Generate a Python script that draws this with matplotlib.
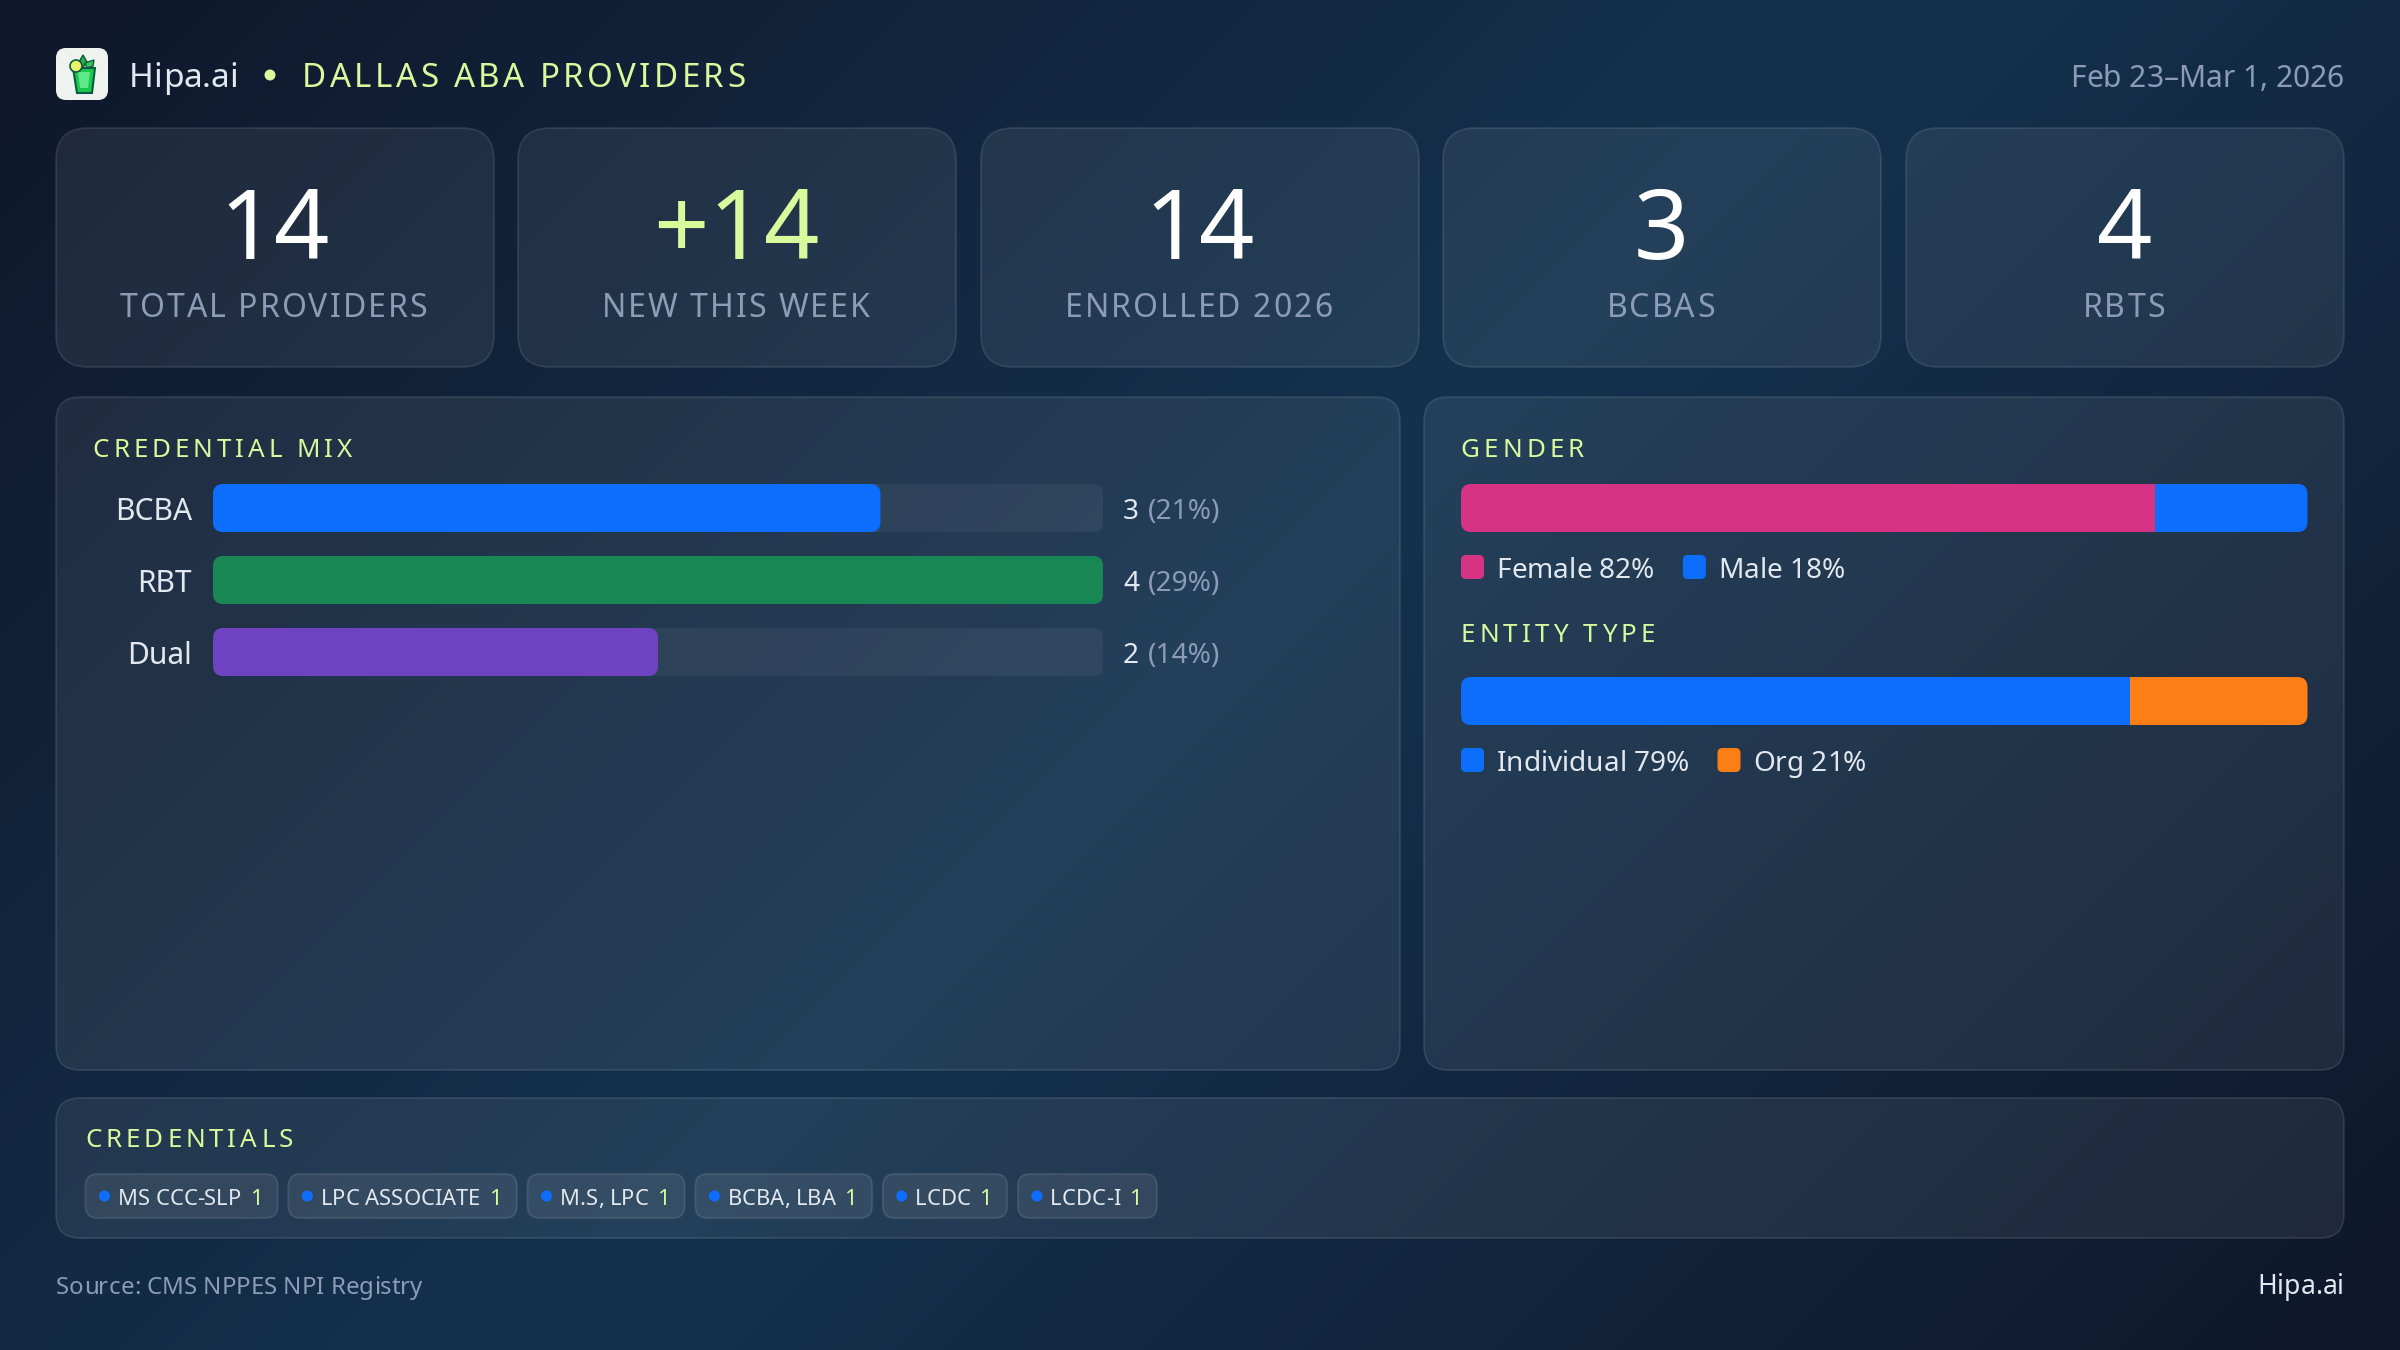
import matplotlib
matplotlib.use('Agg')
import matplotlib.pyplot as plt
import numpy as np
from matplotlib.colors import LinearSegmentedColormap
from matplotlib.patches import FancyBboxPatch, Circle, Polygon
from matplotlib.text import Text
from matplotlib.transforms import Bbox, IdentityTransform

plt.rcParams['font.family'] = ['Noto Sans', 'DejaVu Sans']

# data
kpi_values = ['14', '+14', '14', '3', '4']
kpi_labels = ['TOTAL PROVIDERS', 'NEW THIS WEEK', 'ENROLLED 2026', 'BCBAS', 'RBTS']
cred_names = ['BCBA', 'RBT', 'Dual']
cred_counts = [3, 4, 2]
cred_pcts = [21, 29, 14]
gender_names = ['Female', 'Male']
gender_pcts = [82, 18]
entity_names = ['Individual', 'Org']
entity_pcts = [79, 21]
chip_names = ['MS CCC-SLP', 'LPC ASSOCIATE', 'M.S, LPC', 'BCBA, LBA', 'LCDC', 'LCDC-I']
chip_counts = [1, 1, 1, 1, 1, 1]

W, H = 2400, 1350
LIME = '#d9f99d'
MUTED = '#8c9cb6'
LIGHT = '#e2e8f0'
BLUE = '#0d6efd'
GREEN = '#198754'
PURPLE = '#6f42c1'
PINK = '#d63384'
ORANGE = '#fd7e14'


def fs(px):
    # css pixels to points at dpi 100
    return px * 0.72


class SpacedText(Text):
    # one text object, drawn with css style letter spacing
    def __init__(self, x, y, s, spacing=0, **kw):
        super().__init__(x, y, s, **kw)
        self.spacing = spacing

    def _pen(self, renderer, s):
        fp = self.get_fontproperties()
        w = lambda t: renderer.get_text_width_height_descent(t, fp, False)[0]
        return w('|' + s + '|') - w('||')

    def _start(self, renderer):
        s = self.get_text()
        x, y = self.get_transform().transform(self.get_position())
        total = self._pen(renderer, s) + self.spacing * (len(s) - 1)
        if self.get_ha() == 'center':
            x -= total / 2
        elif self.get_ha() == 'right':
            x -= total
        return x, y

    def draw(self, renderer):
        s = self.get_text()
        x, y = self._start(renderer)
        for i, ch in enumerate(s):
            if ch == ' ':
                continue
            off = self._pen(renderer, s[:i]) + self.spacing * i if i else 0
            t = Text(x + off, y, ch, fontproperties=self.get_fontproperties(), color=self.get_color(),
                     transform=IdentityTransform(), va='baseline', ha='left')
            t.set_figure(self.get_figure())
            t.draw(renderer)

    def get_window_extent(self, renderer=None, dpi=None):
        bb = super().get_window_extent(renderer, dpi)
        extra = self.spacing * (len(self.get_text()) - 1)
        if self.get_ha() == 'center':
            return Bbox.from_extents(bb.x0 - extra / 2, bb.y0, bb.x1 + extra / 2, bb.y1)
        if self.get_ha() == 'right':
            return Bbox.from_extents(bb.x0 - extra, bb.y0, bb.x1, bb.y1)
        return Bbox.from_extents(bb.x0, bb.y0, bb.x1 + extra, bb.y1)


fig = plt.figure(figsize=(24, 13.5), dpi=100)
bg = fig.add_axes([0, 0, 1, 1], zorder=0)
bg.set_xlim(0, W)
bg.set_ylim(H, 0)
bg.axis('off')

# diagonal page background
yy, xx = np.mgrid[0:H:4, 0:W:4]
grad = ((xx - W / 2) + (yy - H / 2)) / (W + H) + 0.5
cmap = LinearSegmentedColormap.from_list('page', ['#0f172a', '#14324e', '#0f172a'])
bg.imshow(grad, cmap=cmap, extent=(0, W, H, 0), aspect='auto', vmin=0, vmax=1, zorder=0)
bg.set_xlim(0, W)
bg.set_ylim(H, 0)


def box(x0, y0, x1, y1, r, fc='white', fa=0.07, ec='white', ea=0.1, lw=1.3, z=1):
    fcol = matplotlib.colors.to_rgba(fc, fa)
    ecol = matplotlib.colors.to_rgba(ec, ea)
    p = FancyBboxPatch((x0, y0), x1 - x0, y1 - y0, boxstyle=f'round,pad=0,rounding_size={r}',
                       fc=fcol, ec=ecol, lw=lw, zorder=z)
    bg.add_patch(p)
    return p


def label(x, y, s, px, color=LIGHT, ha='left', weight='normal', spacing=0, z=5):
    t = SpacedText(x, y, s, spacing=spacing, fontsize=fs(px), color=color, ha=ha, va='baseline',
                   fontweight=weight, zorder=z)
    bg.add_artist(t)
    return t


def text_w(s, px):
    r = fig.canvas.get_renderer()
    t = bg.text(0, 0, s, fontsize=fs(px))
    w = t.get_window_extent(r).width
    t.remove()
    return w


# header
box(56, 48, 108, 100, 10, fa=0.97, ea=0, lw=0, fc='#f7fbf7')
bg.add_patch(Polygon([(73, 68), (95, 68), (92, 93), (77, 93)], fc='#18c94b', ec='#0b5a45', lw=1.5, zorder=3))
bg.add_patch(Polygon([(78, 72), (90, 72), (88, 88), (80, 88)], fc='#5fe88a', ec='none', zorder=3))
bg.add_patch(Circle((76, 66), 6, fc='#e9f26a', ec='#0b5a45', lw=1.2, zorder=4))
bg.add_patch(Polygon([(79, 62), (83, 55), (87, 62), (83, 67)], fc='#2fae3f', ec='#0b5a45', lw=1, zorder=3))
bg.add_patch(Polygon([(85, 63), (94, 60), (93, 66), (87, 68)], fc='#3cc24d', ec='#0b5a45', lw=1, zorder=3))
label(129, 87, 'Hipa.ai', 33.5, LIGHT)
bg.add_patch(Circle((270, 75), 5.5, fc=LIME, ec='none', zorder=4))
label(302, 87, 'DALLAS ABA PROVIDERS', 33, LIME, spacing=3.4)
label(2344, 87, 'Feb 23–Mar 1, 2026', 30, MUTED, ha='right')

# kpi cards
card_x0 = [56, 518, 981, 1443, 1906]
card_w = 438
for x0, val, lab, i in zip(card_x0, kpi_values, kpi_labels, range(5)):
    box(x0, 128, x0 + card_w, 367, 32)
    col = LIME if val.startswith('+') else 'white'
    label(x0 + card_w / 2 - 0.5, 259, val, 97, col, ha='center', weight='light')
    label(x0 + card_w / 2 - 1.5, 317, lab, 32, MUTED, ha='center', spacing=2)

# panels
box(56, 397, 1400, 1070, 24)
box(1424, 397, 2344, 1070, 24)
box(56, 1098, 2344, 1238, 24)
label(92.5, 457, 'CREDENTIAL MIX', 26, LIME, spacing=4)
label(1460.5, 457, 'GENDER', 26, LIME, spacing=4.2)
label(1460.5, 642, 'ENTITY TYPE', 26, LIME, spacing=4.2)
label(85, 1147, 'CREDENTIALS', 26, LIME, spacing=4)


def rounded(ax, x0, x1, yc, h, r_px):
    # rounded box in data units of ax, same pixel radius both ways
    bb = ax.get_position()
    xl, yl = ax.get_xlim(), ax.get_ylim()
    px_x = bb.width * W / abs(xl[1] - xl[0])
    px_y = bb.height * H / abs(yl[1] - yl[0])
    return FancyBboxPatch((x0, yc - h / 2), x1 - x0, h,
                          boxstyle=f'round,pad=0,rounding_size={r_px / px_x}',
                          mutation_aspect=px_x / px_y, transform=ax.transData)


def chart_ax(x0, y0, x1, y1):
    ax = fig.add_axes([x0 / W, 1 - y1 / H, (x1 - x0) / W, (y1 - y0) / H], zorder=2)
    ax.patch.set_alpha(0)
    for s in ax.spines.values():
        s.set_visible(False)
    ax.set_xticks([])
    ax.set_yticks([])
    return ax


# credential mix bars, rows are 72px apart and bars 48px tall
ax = chart_ax(213, 472, 1103, 688)
ax.set_xlim(0, max(cred_counts))
ax.set_ylim(len(cred_names) - 0.5, -0.5)
rows = np.arange(len(cred_names))
bar_h = 48 / 72
for i, (n, c, p, col) in enumerate(zip(cred_names, cred_counts, cred_pcts, [BLUE, GREEN, PURPLE])):
    track = ax.barh(i, max(cred_counts), height=bar_h, color='white', alpha=0.055, lw=0)[0]
    track.set_clip_path(rounded(ax, 0, max(cred_counts), i, bar_h, 10))
    bar = ax.barh(i, c, height=bar_h, color=col, lw=0)[0]
    bar.set_clip_path(rounded(ax, 0, c, i, bar_h, 10))
    ax.annotate(str(c), (max(cred_counts), i), xytext=(20, -11), textcoords='offset pixels',
                fontsize=fs(28), color=LIGHT, va='baseline', annotation_clip=False)
    ax.annotate(f'({p}%)', (max(cred_counts), i), xytext=(44.5, -11), textcoords='offset pixels',
                fontsize=fs(28), color=MUTED, va='baseline', annotation_clip=False)
ax.set_yticks(rows, cred_names, fontsize=fs(30), color=LIGHT)
ax.tick_params(axis='y', length=0, pad=15)


def stacked(y0, y1, pcts, colors):
    a = chart_ax(1461, y0, 2307.5, y1)
    a.set_xlim(0, sum(pcts))
    a.set_ylim(-0.5, 0.5)
    clip = rounded(a, 0, sum(pcts), 0, 1, 10)
    left = 0
    for p, col in zip(pcts, colors):
        seg = a.barh(0, p, left=left, height=1, color=col, lw=0)[0]
        seg.set_clip_path(clip)
        left += p


def legend_row(y, names, pcts, colors):
    x = 1461
    for n, p, col in zip(names, pcts, colors):
        box(x, y, x + 23, y + 24, 5, fc=col, fa=1, ea=0, lw=0, z=4)
        s = f'{n} {p}%'
        label(x + 35.5, y + 23, s, 28, LIGHT)
        x += 35.5 + text_w(s, 28) + 28.5


stacked(484, 532, gender_pcts, [PINK, BLUE])
legend_row(555, gender_names, gender_pcts, [PINK, BLUE])
stacked(677, 725, entity_pcts, [BLUE, ORANGE])
legend_row(748, entity_names, entity_pcts, [BLUE, ORANGE])

# credential chips
x = 85.5
for n, c in zip(chip_names, chip_counts):
    tw = text_w(n, 22)
    cw = text_w(str(c), 22)
    x1 = x + 32.5 + tw + 9.5 + cw + 14.5
    box(x, 1174, x1, 1218, 12, fa=0.08, ea=0.11, z=3)
    bg.add_patch(Circle((x + 19, 1196), 5.5, fc=BLUE, ec='none', zorder=4))
    label(x + 32.5, 1205, n, 22, LIGHT)
    label(x + 32.5 + tw + 9.5, 1205, str(c), 22, LIME)
    x = x1 + 10.6

# footer
label(56, 1294, 'Source: CMS NPPES NPI Registry', 24, MUTED)
label(2344, 1294, 'Hipa.ai', 26.5, LIGHT, ha='right')

fig.savefig('out.png', dpi=100)
